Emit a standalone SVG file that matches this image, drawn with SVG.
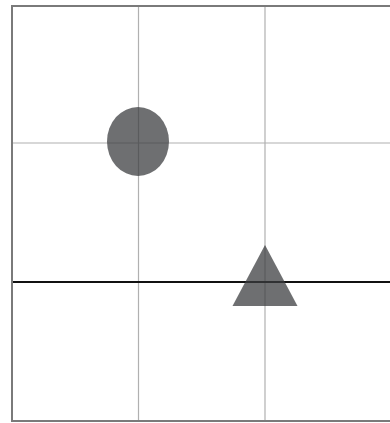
<svg xmlns="http://www.w3.org/2000/svg" width="390" height="423" viewBox="0 0 390 423">
<style>
.grid{stroke:#b0b0b0;stroke-width:1.2;fill:none}
.frame{stroke:#7a7a7a;stroke-width:2;fill:none}
.shape{fill:#3c3d40;fill-opacity:0.74}
</style>
<rect x="0" y="0" width="390" height="423" fill="#ffffff"/>
<g id="lines">
<line class="grid" x1="138.5" y1="6" x2="138.5" y2="421"/>
<line class="grid" x1="265" y1="6" x2="265" y2="421"/>
<line class="grid" x1="12" y1="143" x2="390" y2="143"/>
<line x1="12" y1="282" x2="390" y2="282" stroke="#111" stroke-width="2.2"/>
<polyline class="frame" points="390,6 12,6 12,421 390,421"/>
</g>
<g id="circle"><ellipse class="shape" cx="138" cy="141.5" rx="31" ry="34.5"/></g>
<g id="triangle"><polygon class="shape" points="265,245 297.5,306 232.5,306"/></g>
</svg>
